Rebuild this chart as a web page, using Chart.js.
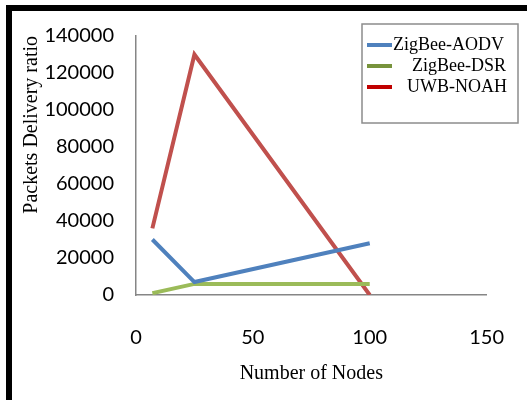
<!DOCTYPE html>
<html>
<head>
<meta charset="utf-8">
<script src="https://cdn.jsdelivr.net/npm/chart.js@4"></script>
<style>
  html, body { margin: 0; padding: 0; background: #fff; }
  #wrap { position: relative; width: 527px; height: 400px; overflow: hidden; }
  #frame { position: absolute; left: 6px; top: 5px; width: 600px; height: 500px;
           border-left: 6px solid #000; border-top: 6px solid #000; }
  canvas { position: absolute; left: 0; top: 0; }
</style>
</head>
<body>
<div id="wrap">
  <div id="frame"></div>
  <canvas id="chart" width="527" height="400"></canvas>
</div>
<script>
// values
var nodes = [7, 25, 100];
var aodv = [30000, 7000, 28000];
var dsr = [1000, 6000, 6000];
var noah = [36000, 130000, 0];

var seriesNames = ['ZigBee-AODV', 'ZigBee-DSR', 'UWB-NOAH'];
var lineColors = ['#4F81BD', '#9BBB59', '#C0504D'];
var keyColors = ['#4F81BD', '#77933C', '#C00000'];
var keyIndent = [0, 19, 14];

var xTicks = [0, 50, 100, 150];
var yTicks = [0, 20000, 40000, 60000, 80000, 100000, 120000, 140000];

function points(ys) {
  return nodes.map(function (n, i) { return { x: n, y: ys[i] }; });
}

// legend box like the one in the figure
var boxLegend = {
  id: 'boxLegend',
  afterDraw: function (chart) {
    var ctx = chart.ctx;
    ctx.save();
    ctx.strokeStyle = '#8c8c8c';
    ctx.lineWidth = 1.5;
    ctx.strokeRect(362, 24, 156, 99);
    ctx.font = '18px "Liberation Serif"';
    ctx.textBaseline = 'middle';
    ctx.fillStyle = '#000';
    chart.data.datasets.forEach(function (ds, i) {
      var y = 45 + i * 21;
      ctx.strokeStyle = keyColors[i];
      ctx.lineWidth = 4;
      ctx.beginPath();
      ctx.moveTo(367, y);
      ctx.lineTo(392, y);
      ctx.stroke();
      ctx.fillText(ds.label, 393 + keyIndent[i], y);
    });
    ctx.restore();
  }
};

var datasets = [aodv, dsr, noah].map(function (ys, i) {
  return {
    label: seriesNames[i],
    data: points(ys),
    borderColor: lineColors[i],
    backgroundColor: lineColors[i],
    borderWidth: 4,
    pointRadius: 0,
    tension: 0
  };
});

var chart = new Chart(document.getElementById('chart'), {
  type: 'line',
  data: { datasets: datasets },
  plugins: [boxLegend],
  options: {
    responsive: false,
    animation: false,
    layout: { padding: { left: 18, top: 36, right: 20, bottom: 10 } },
    plugins: { legend: { display: false }, tooltip: { enabled: false } },
    scales: {
      x: {
        type: 'linear',
        min: 0,
        max: 150,
        afterBuildTicks: function (scale) {
          scale.ticks = xTicks.map(function (v) { return { value: v }; });
        },
        afterFit: function (scale) { scale.height = 95; },
        grid: { display: false },
        border: { display: true, color: '#868686', width: 1.5 },
        ticks: {
          color: '#000',
          padding: 23,
          maxRotation: 0,
          font: { family: 'Lato', size: 20 },
          callback: function (v) { return String(v); }
        },
        title: {
          display: true,
          text: 'Number of Nodes',
          color: '#000',
          padding: { top: 0, bottom: 4 },
          font: { family: 'Liberation Serif', size: 20 }
        }
      },
      y: {
        min: 0,
        max: 140000,
        afterBuildTicks: function (scale) {
          scale.ticks = yTicks.map(function (v) { return { value: v }; });
        },
        afterFit: function (scale) { scale.width = 136 - 18; },
        grid: { display: false },
        border: { display: true, color: '#868686', width: 1.5 },
        ticks: {
          color: '#000',
          padding: 14,
          font: { family: 'Lato', size: 20 },
          callback: function (v) { return String(v); }
        },
        title: {
          display: true,
          text: 'Packets Delivery ratio',
          color: '#000',
          align: 'end',
          padding: { top: 2, bottom: 0 },
          font: { family: 'Liberation Serif', size: 20 }
        }
      }
    }
  }
});
</script>
</body>
</html>
